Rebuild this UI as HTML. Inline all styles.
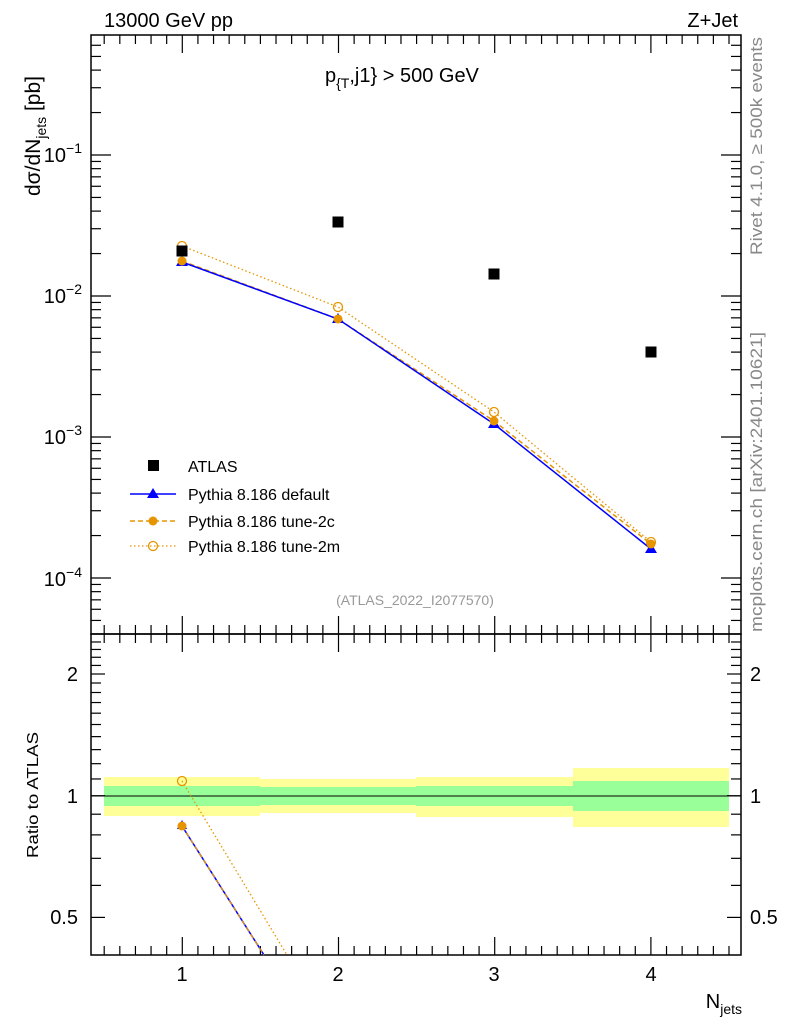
<!DOCTYPE html>
<html><head><meta charset="utf-8"><style>
html,body{margin:0;padding:0;background:#fff;}
svg{display:block;font-family:"Liberation Sans",sans-serif;}
</style></head><body>
<svg id="s" width="786" height="1024" viewBox="0 0 786 1024" xmlns="http://www.w3.org/2000/svg">
<rect width="786" height="1024" fill="#fff"/>
<g id="bands"></g>
<line x1="91" y1="796" x2="741" y2="796" stroke="#000" stroke-width="1"/>
<g id="ticks" stroke="#000" stroke-width="1.2"></g>
<rect x="91" y="35" width="650" height="599" fill="none" stroke="#000" stroke-width="1.5"/>
<rect x="91" y="634" width="650" height="321" fill="none" stroke="#000" stroke-width="1.5"/>
<g id="data"></g>
<text x="104" y="27" font-size="20">13000 GeV pp</text>
<text x="738" y="27" font-size="20" text-anchor="end">Z+Jet</text>
<text x="325" y="82" font-size="20">p<tspan font-size="14" dy="6">{T</tspan><tspan dy="-6">,j1} &gt; 500 GeV</tspan></text>
<text x="415" y="605" font-size="14" fill="#999" text-anchor="middle">(ATLAS_2022_I2077570)</text>
<text transform="translate(40,196) rotate(-90)" font-size="21">dσ/dN<tspan font-size="14" dy="6">jets</tspan><tspan dy="-6"> [pb]</tspan></text>
<text transform="translate(38,858) rotate(-90)" font-size="16" textLength="126" lengthAdjust="spacingAndGlyphs">Ratio to ATLAS</text>
<text x="742" y="1008" font-size="20" text-anchor="end">N<tspan font-size="14" dy="6">jets</tspan></text>
<text transform="translate(762,255) rotate(-90)" font-size="17" fill="#888" textLength="218" lengthAdjust="spacingAndGlyphs">Rivet 4.1.0, ≥ 500k events</text>
<text transform="translate(762,632) rotate(-90)" font-size="17" fill="#888" textLength="300" lengthAdjust="spacingAndGlyphs">mcplots.cern.ch [arXiv:2401.10621]</text>
<g font-size="20">
<text x="82" y="162" text-anchor="end">10<tspan font-size="14" dy="-9">−1</tspan></text>
<text x="82" y="303" text-anchor="end">10<tspan font-size="14" dy="-9">−2</tspan></text>
<text x="82" y="444" text-anchor="end">10<tspan font-size="14" dy="-9">−3</tspan></text>
<text x="82" y="586" text-anchor="end">10<tspan font-size="14" dy="-9">−4</tspan></text>
<text x="78" y="681" text-anchor="end">2</text>
<text x="78" y="803" text-anchor="end">1</text>
<text x="78" y="924" text-anchor="end">0.5</text>
<text x="750" y="681">2</text>
<text x="750" y="803">1</text>
<text x="750" y="924">0.5</text>
<text x="182" y="981" text-anchor="middle">1</text>
<text x="338" y="981" text-anchor="middle">2</text>
<text x="494" y="981" text-anchor="middle">3</text>
<text x="651" y="981" text-anchor="middle">4</text>
</g>
<rect x="148" y="460" width="11" height="11" fill="#000"/>
<text x="188" y="472" font-size="16">ATLAS</text>
<line x1="130" y1="494" x2="176" y2="494" stroke="#00f" stroke-width="1.5"/>
<polygon points="153,488 147,498 159,498" fill="#00f"/>
<text x="188" y="500" font-size="16">Pythia 8.186 default</text>
<line x1="130" y1="521" x2="176" y2="521" stroke="#e69500" stroke-width="1.5" stroke-dasharray="5,3"/>
<circle cx="153" cy="521" r="4.5" fill="#e69500"/>
<text x="188" y="527" font-size="16">Pythia 8.186 tune-2c</text>
<line x1="130" y1="546" x2="176" y2="546" stroke="#e69500" stroke-width="1.3" stroke-dasharray="1.5,2.5"/>
<circle cx="153" cy="546" r="4.5" fill="none" stroke="#e69500" stroke-width="1.3"/>
<text x="188" y="552" font-size="16">Pythia 8.186 tune-2m</text>
</svg>
<script>
var NS="http://www.w3.org/2000/svg";
function el(p,t,a){var e=document.createElementNS(NS,t);for(var k in a)e.setAttribute(k,a[k]);p.appendChild(e);return e;}
var T=document.getElementById('ticks'),B=document.getElementById('bands'),D=document.getElementById('data');
function X(n){return 182.3+(n-1)*156.2;}
for(var n=0.5;n<=4.55;n+=0.1){var x=X(n);if(x<92||x>740)continue;var maj=Math.abs(n-Math.round(n))<0.01;var L=maj?18:9;
[[35,1],[634,-1],[634,1],[955,-1]].forEach(function(q){el(T,'line',{x1:x,x2:x,y1:q[0],y2:q[0]+q[1]*L});});}
function Ym(v){return 155-141*(Math.log10(v)+1);}
for(var d=-5;d<=0;d++)for(var m=1;m<10;m++){var v=m*Math.pow(10,d);var y=Ym(v);if(y<36||y>633)continue;var L=m==1?20:10;
el(T,'line',{x1:91,x2:91+L,y1:y,y2:y});el(T,'line',{x1:741,x2:741-L,y1:y,y2:y});}
function Yr(v){return 795.7-121.7*Math.log10(v)/Math.log10(2);}
[0.4,0.5,0.6,0.7,0.8,0.9,1,1.1,1.2,1.3,1.4,1.5,1.6,1.7,1.8,1.9,2,2.1,2.2,2.3,2.4,2.5].forEach(function(v){var y=Yr(v);if(y<635||y>954)return;var maj=(v==0.5||v==1||v==2);var L=maj?14:10;
el(T,'line',{x1:91,x2:91+L,y1:y,y2:y});el(T,'line',{x1:741,x2:741-L,y1:y,y2:y});});
var bins=[[104,260,777,816,786,806],[260,416,779,813,787,805],[416,573,777,817,786,806],[573,729,768,827,781,811]];
bins.forEach(function(b){el(B,'rect',{x:b[0],y:b[2],width:b[1]-b[0],height:b[3]-b[2],fill:'#ffff99'});el(B,'rect',{x:b[0],y:b[4],width:b[1]-b[0],height:b[5]-b[4],fill:'#99ff99'});});
var xs=[182,338,494,651];
var atlas=[251,222,274,352],def=[262,319,424,549],c2=[261,319,421,544],m2=[246,307,412,542];
function pl(ys,st){el(D,'polyline',{points:xs.map(function(x,i){return x+','+ys[i];}).join(' '),fill:'none',stroke:st.c,'stroke-width':st.w,'stroke-dasharray':st.d||'none'});}
pl(m2,{c:'#e69500',w:1.3,d:'1.5,2.5'});pl(c2,{c:'#e69500',w:1.5,d:'5,3'});pl(def,{c:'#00f',w:1.5});
xs.forEach(function(x,i){
 el(D,'polygon',{points:x+','+(def[i]-6)+' '+(x-6)+','+(def[i]+4)+' '+(x+6)+','+(def[i]+4),fill:'#00f'});
 el(D,'circle',{cx:x,cy:c2[i],r:4.5,fill:'#e69500'});
 el(D,'circle',{cx:x,cy:m2[i],r:4.5,fill:'none',stroke:'#e69500','stroke-width':1.3});
 el(D,'rect',{x:x-5.5,y:atlas[i]-5.5,width:11,height:11,fill:'#000'});
});
el(D,'line',{x1:182,y1:826,x2:264,y2:955,stroke:'#00f','stroke-width':1.5});
el(D,'line',{x1:182,y1:826,x2:264,y2:955,stroke:'#e69500','stroke-width':1.2,'stroke-dasharray':'5,3'});
el(D,'line',{x1:182,y1:781,x2:287,y2:955,stroke:'#e69500','stroke-width':1.3,'stroke-dasharray':'1.5,2.5'});
el(D,'polygon',{points:'182,820 177,829 187,829',fill:'#00f'});
el(D,'circle',{cx:182,cy:826,r:4.5,fill:'#e69500'});
el(D,'circle',{cx:182,cy:781,r:4.5,fill:'none',stroke:'#e69500','stroke-width':1.3});
</script>
</body></html>
